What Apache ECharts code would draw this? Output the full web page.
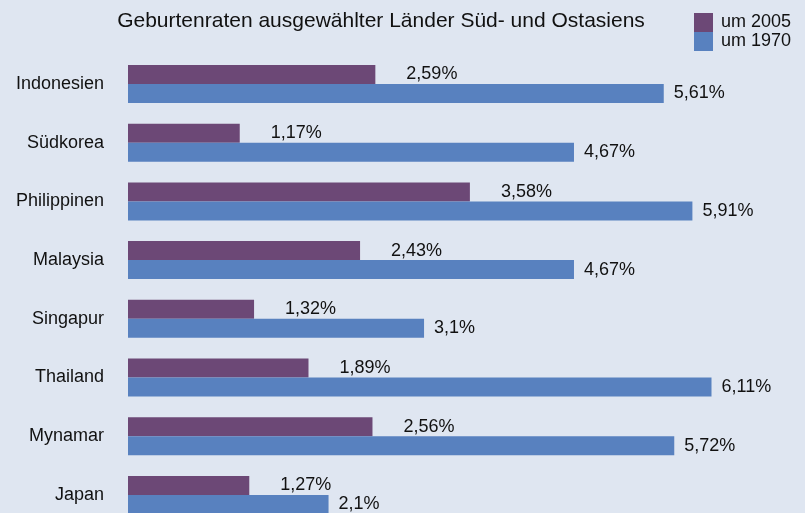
<!DOCTYPE html>
<html>
<head>
<meta charset="utf-8">
<script src="https://cdn.jsdelivr.net/npm/echarts@6/dist/echarts.min.js"></script>
<style>
  html, body { margin: 0; padding: 0; background: #dfe6f1; overflow: hidden; }
  /* chart is a bit taller than the window: the last bar is cut at the bottom edge */
  #chart { width: 805px; height: 530px; }
</style>
</head>
<body>
<div id="chart"></div>
<script>
const countries = ['Indonesien', 'Südkorea', 'Philippinen', 'Malaysia', 'Singapur', 'Thailand', 'Mynamar', 'Japan'];
const rates2005 = [2.59, 1.17, 3.58, 2.43, 1.32, 1.89, 2.56, 1.27];
const rates1970 = [5.61, 4.67, 5.91, 4.67, 3.1, 6.11, 5.72, 2.1];

const fmt = (p) => String(p.value).replace('.', ',') + '%';
const font = 'Liberation Sans, Arial, sans-serif';

const chart = echarts.init(document.getElementById('chart'));
chart.setOption({
  backgroundColor: '#dfe6f1',
  animation: false,
  title: {
    text: 'Geburtenraten ausgewählter Länder Süd- und Ostasiens',
    left: 376, top: 6, textAlign: 'center',
    textStyle: { fontFamily: font, fontSize: 21, fontWeight: 'normal', color: '#111' }
  },
  legend: {
    orient: 'vertical', left: 689, top: 8,
    itemWidth: 19, itemHeight: 19, itemGap: 0,
    icon: 'rect',
    textStyle: { fontFamily: font, fontSize: 18, color: '#111', padding: [0, 0, 0, 3] },
    data: ['um 2005', 'um 1970']
  },
  grid: { left: 128, top: 54.6, height: 469.7, right: 8.5 },
  xAxis: { type: 'value', min: 0, max: 7, show: false },
  yAxis: {
    type: 'category', data: countries, inverse: true,
    axisLine: { show: false }, axisTick: { show: false },
    axisLabel: { fontFamily: font, fontSize: 18, color: '#111', margin: 24, padding: [0, 0, 3, 0] }
  },
  series: [
    {
      name: 'um 2005', type: 'bar', data: rates2005,
      barWidth: 19, barGap: '0%',
      itemStyle: { color: '#6c4876' },
      label: { show: true, position: 'right', distance: 31, formatter: fmt,
        fontFamily: font, fontSize: 18, color: '#111' }
    },
    {
      name: 'um 1970', type: 'bar', data: rates1970,
      barWidth: 19,
      itemStyle: { color: '#5881bf' },
      label: { show: true, position: 'right', distance: 10, formatter: fmt,
        fontFamily: font, fontSize: 18, color: '#111' }
    }
  ]
});
</script>
</body>
</html>
